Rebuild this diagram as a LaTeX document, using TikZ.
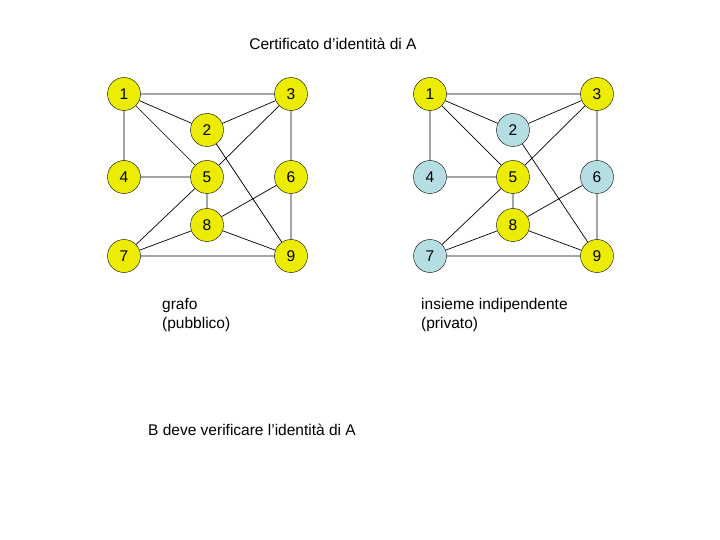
\documentclass[tikz,border=0pt]{standalone}
\usepackage{fontspec}
\setmainfont{Liberation Sans}
\definecolor{vy}{RGB}{236,236,0}
\definecolor{lb}{RGB}{180,222,226}
\begin{document}
\begin{tikzpicture}[x=1pt,y=-1pt,font=\fontsize{15.5}{19}\selectfont,
  v/.style={circle,draw=black,fill=vy,minimum size=33pt,inner sep=0pt},
  w/.style={v,fill=lb},
  e/.style={draw=black,line width=0.7pt},
  lab/.style={align=left,anchor=north west,inner sep=0pt}]
\useasboundingbox (0,0) rectangle (720,540);
\node[inner sep=0pt] (t) at (333,44) {Certificato d’identità di A};
\foreach \p/\dx/\s in {a/0/v,b/306/w}{
  \node[v] (\p1) at (124+\dx,94) {1};
  \node[v] (\p3) at (291+\dx,94) {3};
  \node[\s] (\p2) at (207+\dx,130) {2};
  \node[\s] (\p4) at (124+\dx,177) {4};
  \node[v] (\p5) at (207+\dx,177) {5};
  \node[\s] (\p6) at (291+\dx,177) {6};
  \node[v] (\p8) at (207+\dx,225) {8};
  \node[\s] (\p7) at (124+\dx,256) {7};
  \node[v] (\p9) at (291+\dx,256) {9};
  \draw[e] (\p1)--(\p3) (\p1)--(\p2) (\p1)--(\p5) (\p1)--(\p4) (\p2)--(\p3) (\p2)--(\p9)
    (\p3)--(\p5) (\p3)--(\p6) (\p4)--(\p5) (\p5)--(\p8) (\p5)--(\p7) (\p6)--(\p8)
    (\p6)--(\p9) (\p7)--(\p8) (\p7)--(\p9) (\p8)--(\p9);
}
\node[lab] (g) at (162,298) {grafo\\(pubblico)};
\node[lab] (i) at (421,298) {insieme indipendente\\(privato)};
\node[lab] (bv) at (148,424) {B deve verificare l’identità di A};
\end{tikzpicture}
\end{document}
